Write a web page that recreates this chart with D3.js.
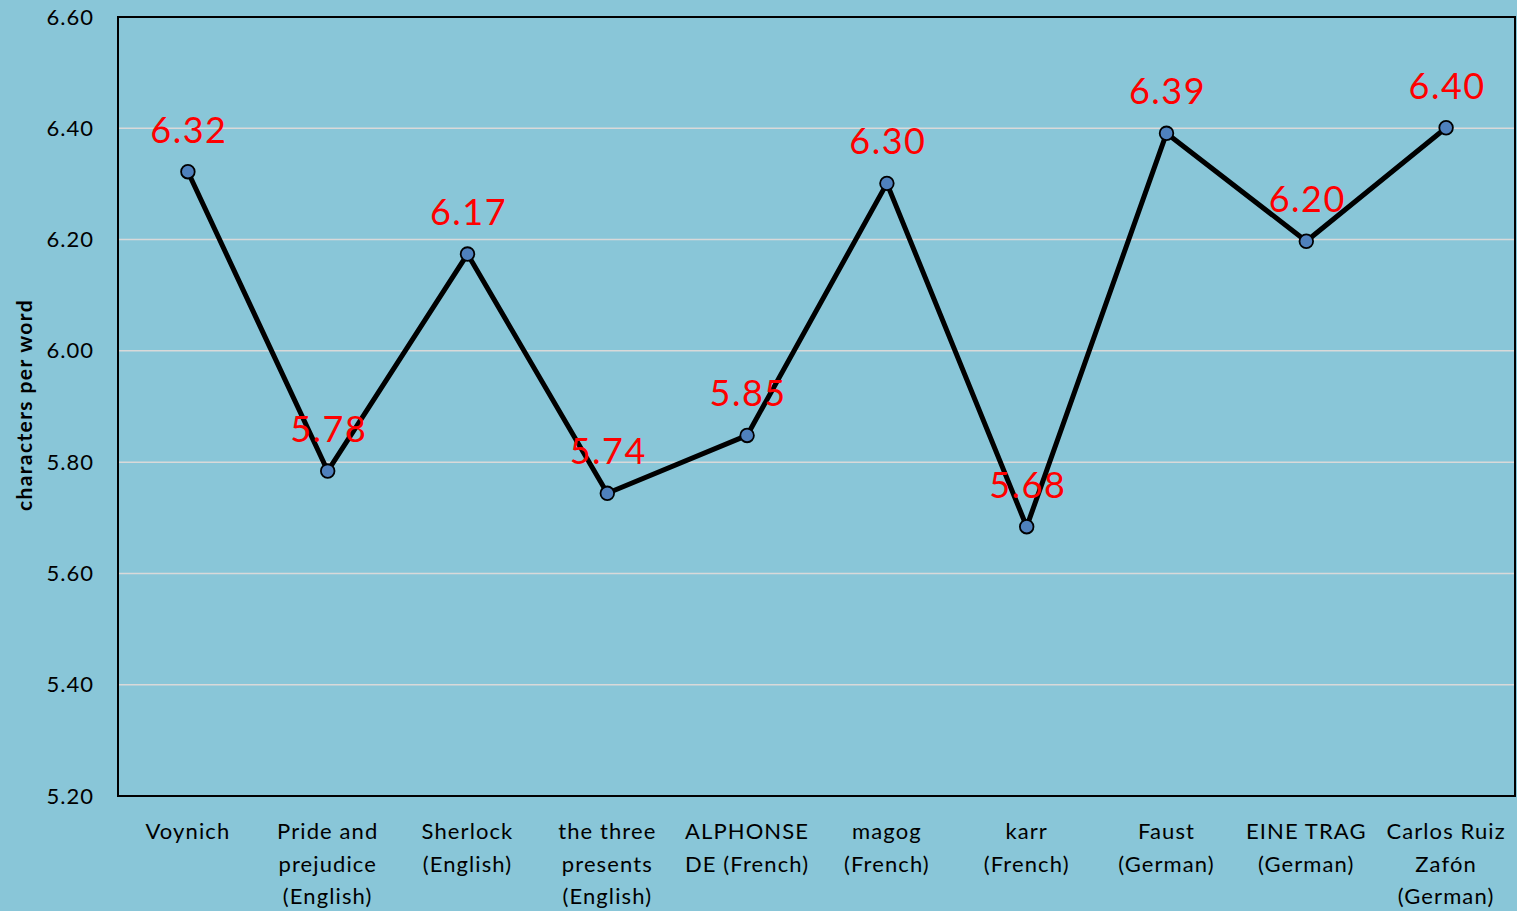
<!DOCTYPE html>
<html><head><meta charset="utf-8">
<script src="https://cdn.jsdelivr.net/npm/d3@7"></script>
<style>
html,body{margin:0;padding:0;background:#89C6D8;}
svg{display:block;}
text{font-family:Lato,"Open Sans",sans-serif;}
</style></head>
<body>
<svg id="chart" width="1517" height="911"></svg>
<script>
const categories = [
  ["Voynich"],
  ["Pride and","prejudice","(English)"],
  ["Sherlock","(English)"],
  ["the three","presents","(English)"],
  ["ALPHONSE","DE (French)"],
  ["magog","(French)"],
  ["karr","(French)"],
  ["Faust","(German)"],
  ["EINE TRAG","(German)"],
  ["Carlos Ruiz","Zafón","(German)"]
];
const values = [6.322, 5.784, 6.174, 5.744, 5.848, 6.301, 5.684, 6.391, 6.197, 6.401];
const yTicks = [5.20, 5.40, 5.60, 5.80, 6.00, 6.20, 6.40, 6.60];
const yTitle = "characters per word";

const svg = d3.select("#chart");
const L = 118, R = 1515, T = 17, B = 796;
const keys = categories.map((c,i)=>i);
const x = d3.scaleBand().domain(keys).range([L, R+1]);
const y = d3.scaleLinear().domain([5.2, 6.6]).range([B, T]);
const cx = i => x(i) + x.bandwidth()/2;

svg.append("rect").attr("x",0).attr("y",0).attr("width",1517).attr("height",911).attr("fill","#89C6D8");

// gridlines
svg.append("g").selectAll("line").data(yTicks.filter(t=>t>5.2 && t<6.6)).join("line")
  .attr("x1", L).attr("x2", R).attr("y1", d=>y(d)).attr("y2", d=>y(d))
  .attr("stroke", "#D9D9D9").attr("stroke-width", 1.5);

// frame
svg.append("rect").attr("x",L).attr("y",T).attr("width",R-L).attr("height",B-T)
  .attr("fill","none").attr("stroke","#000").attr("stroke-width",2);

// y axis
const yAxis = d3.axisLeft(y).tickValues(yTicks).tickFormat(d3.format(".2f")).tickSize(0).tickPadding(24);
const gy = svg.append("g").attr("transform", `translate(${L},0)`).call(yAxis);
gy.select(".domain").remove();
gy.selectAll("text").attr("font-size", 22).attr("fill", "#000").attr("font-family","Lato")
  .attr("letter-spacing", "1px");

// x labels
const gx = svg.append("g");
categories.forEach((lines, i) => {
  const t = gx.append("text").attr("text-anchor","middle").attr("font-size",22).attr("fill","#000")
    .attr("letter-spacing","1.1px");
  lines.forEach((ln, j) => {
    t.append("tspan").attr("x", cx(i)).attr("y", 839 + j*32.5).text(ln);
  });
});

// y title
svg.append("text").attr("transform", `translate(32,405) rotate(-90)`)
  .attr("text-anchor","middle").attr("font-size",21).attr("font-weight","bold")
  .attr("letter-spacing","1.4px")
  .attr("fill","#000").text(yTitle);

// line
const line = d3.line().x((d,i)=>cx(i)).y(d=>y(d));
svg.append("path").datum(values).attr("d", line).attr("fill","none")
  .attr("stroke","#000").attr("stroke-width",5).attr("stroke-linejoin","round");

// points
svg.append("g").selectAll("circle").data(values).join("circle")
  .attr("cx",(d,i)=>cx(i)).attr("cy",d=>y(d)).attr("r",6.8)
  .attr("fill","#4F81BD").attr("stroke","#000").attr("stroke-width",1.8);

// data labels
svg.append("g").selectAll("text").data(values).join("text")
  .attr("x",(d,i)=>cx(i)+1).attr("y",d=>y(d)-29).attr("text-anchor","middle")
  .attr("font-size",36).attr("letter-spacing","1.5px")
  .attr("fill","#FF0000").text(d=>d3.format(".2f")(d));
</script>
</body></html>
